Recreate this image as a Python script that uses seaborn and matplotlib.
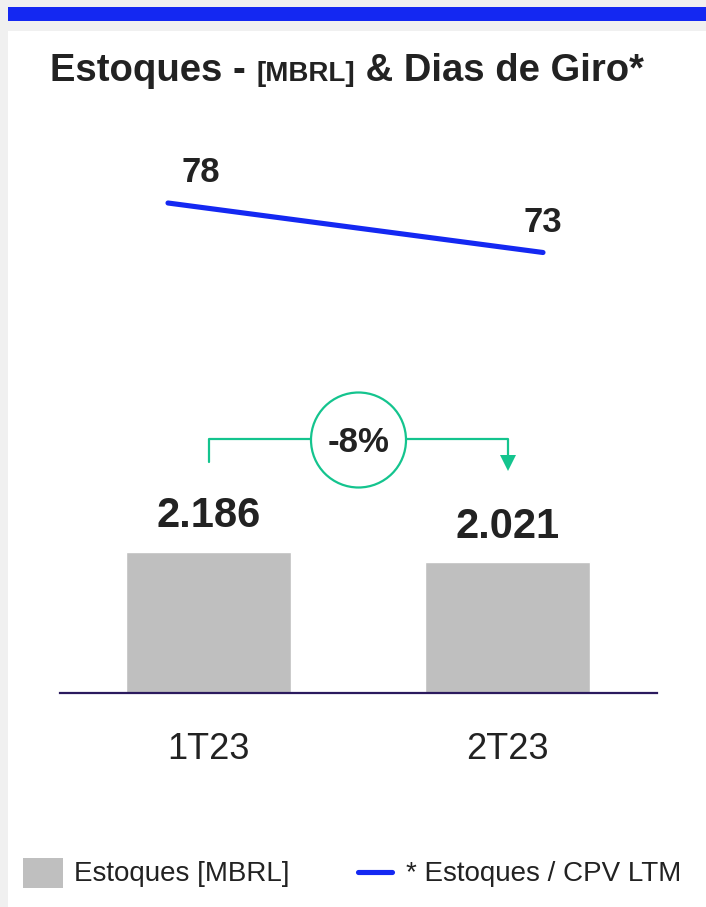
import matplotlib
matplotlib.use("Agg")
import matplotlib.pyplot as plt
import seaborn as sns
import pandas as pd
from matplotlib.patches import Rectangle, Ellipse
from matplotlib.lines import Line2D
import matplotlib.transforms as mtransforms

# ---- data ----
categories = ["1T23", "2T23"]
estoques = [2186, 2021]
estoques_labels = ["2.186", "2.021"]
dias_giro = [78, 73]
dias_labels = ["78", "73"]
variacao_label = "-8%"

# ---- style ----
sns.set_theme(style="white")
plt.rcParams['font.family'] = ['Liberation Sans', 'DejaVu Sans']

W, H = 706, 907
BLUE = "#1428f2"
GRAY = "#bfbfbf"
GREEN = "#14c48e"
NAVY = "#2b1a5e"
TXT = "#222222"

fig = plt.figure(figsize=(W / 100, H / 100), dpi=100)
fig.patch.set_facecolor("#f0f0f0")


def fx(x):
    return x / W


def fy(y):
    return 1 - y / H


# white panel and blue header band
fig.add_artist(Rectangle((fx(8), 0), 1 - fx(8), fy(31), transform=fig.transFigure,
                         facecolor="white", edgecolor="none", zorder=0))
fig.add_artist(Rectangle((fx(8), fy(21)), 1 - fx(8), (21 - 7) / H, transform=fig.transFigure,
                         facecolor=BLUE, edgecolor="none", zorder=0))

# ---- bar axes ----
AX_L, AX_R, AX_T, AX_B = 60, 657, 100, 693
ax = fig.add_axes([fx(AX_L), fy(AX_B), (AX_R - AX_L) / W, (AX_B - AX_T) / H])
ax.set_facecolor("none")
df = pd.DataFrame({"Trimestre": categories, "Estoques": estoques})
sns.barplot(data=df, x="Trimestre", y="Estoques", color=GRAY, saturation=1,
            width=0.552, ax=ax)
px_per_unit_x = 299.0
ax.set_xlim(-(208.5 - AX_L) / px_per_unit_x, 1 + (AX_R - 507.5) / px_per_unit_x)
px_per_val = 141.5 / 2186
ax.set_ylim(0, (AX_B - AX_T) / px_per_val)
for s in ["top", "right", "left"]:
    ax.spines[s].set_visible(False)
ax.spines["bottom"].set_color(NAVY)
ax.spines["bottom"].set_linewidth(1.6)
ax.set_yticks([])
ax.set_xlabel("")
ax.set_ylabel("")
ax.tick_params(axis="x", length=0, labelsize=26, pad=28, labelcolor=TXT)

ax.bar_label(ax.containers[0], labels=estoques_labels, padding=11,
             fontsize=30, fontweight="bold", color=TXT)

# ---- line axes ----
ax2 = fig.add_axes(ax.get_position())
ax2.set_facecolor("none")
lx0, lx1 = 168, 543
lpx = lx1 - lx0
ax2.set_xlim(-(lx0 - AX_L) / lpx, 1 + (AX_R - lx1) / lpx)
ppu = 9.9
ymin = 78 - (AX_B - 203) / ppu
ax2.set_ylim(ymin, ymin + (AX_B - AX_T) / ppu)
sns.lineplot(x=list(range(len(categories))), y=dias_giro, color=BLUE, linewidth=3.7,
             ax=ax2, solid_capstyle="round")
ax2.axis("off")
offsets = [(33, 30), (0, 30)]
for i, (v, lab) in enumerate(zip(dias_giro, dias_labels)):
    ax2.annotate(lab, (i, v), xytext=offsets[i], textcoords="offset pixels",
                 ha="center", va="center", fontsize=25, fontweight="bold", color=TXT)

# ---- variation bracket ----
trans = mtransforms.blended_transform_factory(ax.transData, fig.transFigure)
yb_left, yb_top, yb_arrow = 462, 439, 458
ax.add_line(Line2D([0, 0, 1, 1], [fy(yb_left), fy(yb_top), fy(yb_top), fy(yb_arrow)],
                   transform=trans, color=GREEN, linewidth=1.6, clip_on=False))
ax.add_line(Line2D([1], [fy(463)], transform=trans, marker="v", markersize=11,
                   color=GREEN, markeredgewidth=0, linestyle="none", clip_on=False))
circ = Ellipse((fx(358.5), fy(440)), 95 / W, 95 / H, transform=fig.transFigure,
               facecolor="white", edgecolor=GREEN, linewidth=1.6, zorder=5)
fig.add_artist(circ)
fig.text(fx(358.5), fy(442), variacao_label, ha="center", va="center", fontsize=25,
         fontweight="bold", color=TXT, zorder=6)

# ---- title ----
renderer = fig.canvas.get_renderer()
parts = [("Estoques - ", 27.5), ("[MBRL]", 20), (" & Dias de Giro*", 27.5)]
xcur = 50
for txt, size in parts:
    t = fig.text(fx(xcur), fy(81), txt, ha="left", va="baseline", fontsize=size,
                 fontweight="bold", color=TXT)
    bb = t.get_window_extent(renderer=renderer)
    xcur += bb.width

# ---- legend ----
fig.add_artist(Rectangle((fx(23), fy(888)), 40 / W, 30 / H, transform=fig.transFigure,
                         facecolor=GRAY, edgecolor="none"))
fig.text(fx(74), fy(874), "Estoques [MBRL]", ha="left", va="center", fontsize=20, color=TXT)
fig.add_artist(Line2D([fx(358), fx(392)], [fy(872), fy(872)], transform=fig.transFigure,
                      color=BLUE, linewidth=3.7, solid_capstyle="round"))
fig.text(fx(406), fy(874), "* Estoques / CPV LTM", ha="left", va="center", fontsize=20, color=TXT)

fig.savefig("out.png", dpi=100, facecolor=fig.get_facecolor())
